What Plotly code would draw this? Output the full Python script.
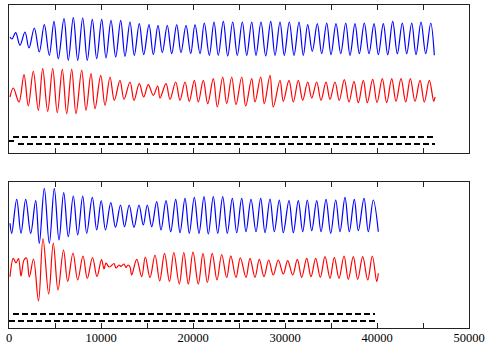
import plotly.graph_objects as go

# ---------------- data ----------------
# Upper panel, blue signal (extrema)
top_blue_t = [109, 326, 728, 1196, 1739, 2174, 2750, 3294, 3837, 4381,
              4892, 5359, 5979, 6446, 6989, 7468, 8011, 8511, 9055, 9533,
              10077, 10544, 11087, 11598, 12142, 12609, 13153, 13620, 14164, 14642,
              15218, 15685, 16196, 16664, 17207, 17686, 18229, 18696, 19240, 19751,
              20218, 20762, 21229, 21773, 22284, 22751, 23294, 23773, 24316, 24816,
              25360, 25838, 26381, 26849, 27392, 27903, 28447, 28914, 29458, 29925,
              30469, 30980, 31523, 31991, 32469, 32969, 33512, 33991, 34534, 35001,
              35545, 36056, 36599, 37067, 37610, 38078, 38621, 39132, 39676, 40143,
              40687, 41165, 41709, 42209, 42752, 43230, 43774, 44241, 44785, 45295,
              45839, 46230]
top_blue_v = [116, 114, 120.3, 107.7, 121, 105, 125, 101, 128.3, 97.7,
              131.7, 94.3, 134.3, 92.7, 135.3, 92.7, 135, 92.7, 133.7, 94.3,
              133.7, 95, 132.7, 96, 132.7, 96.7, 131, 97.7, 129.3, 98.3,
              128.3, 98.3, 127.7, 100.3, 127.7, 99.3, 128.3, 100.3, 127.7, 99.3,
              128.3, 99.3, 130, 97.7, 131, 97.7, 131.7, 97, 131, 97.7,
              131, 97.7, 131, 97.7, 131, 97, 131.7, 97.7, 131, 97.7,
              131, 97.7, 131, 97.7, 128.3, 101.7, 129.3, 99.3, 130, 98.3,
              129.3, 99.3, 130, 97.7, 129.3, 99.3, 130, 99.3, 129.3, 98.3,
              129.3, 98.3, 131.7, 99.3, 130, 99.3, 130, 98.3, 131, 99.3,
              130, 97.7]

# Upper panel, red signal (extrema)
top_red_t = [109, 467, 1087, 1631, 2098, 2641, 3185, 3663, 4207, 4750,
             5250, 5794, 6272, 6815, 7283, 7902, 8370, 8913, 9348, 9968,
             10435, 10979, 11446, 12066, 12500, 13153, 13587, 14164, 14642, 15142,
             15685, 16164, 16414, 17066, 17501, 18120, 18588, 19131, 19599, 20142,
             20577, 21120, 21599, 22207, 22642, 23229, 23664, 24207, 24675, 25295,
             25729, 26382, 26740, 27360, 27751, 28371, 28729, 29458, 29817, 30436,
             30904, 31447, 31925, 32469, 32904, 33447, 33914, 34458, 34893, 35436,
             35903, 36447, 36958, 37502, 37969, 38513, 38947, 39534, 40002, 40578,
             41057, 41600, 42067, 42611, 43122, 43622, 44133, 44676, 45144, 45687,
             46166, 46307]
top_red_v = [56, 65, 51, 78.3, 47, 81.7, 42.7, 84.3, 41.7, 84.3,
             40.3, 83.7, 39.3, 83.7, 39.3, 82.7, 42.7, 79.3, 44.3, 77.7,
             47.7, 76, 52.7, 72.7, 53.7, 71, 52.7, 69.3, 56, 68.3,
             57.7, 67, 55, 69.3, 53.7, 71, 52.7, 71, 51.7, 72.7,
             51, 72.7, 49.3, 74.3, 46, 76, 49.3, 76, 48.3, 76,
             47, 74.3, 51, 76, 49.3, 77.7, 46, 72.7, 51.7, 72.7,
             51, 72.7, 52.7, 71, 55, 71, 52.7, 71, 53.7, 71,
             52.7, 73.3, 51, 71.7, 50.3, 72.7, 50.3, 73.7, 50.3, 74.3,
             50.3, 74.3, 51.7, 74.3, 51, 74.3, 51.7, 72.7, 51, 72.7,
             51.7, 56]

# Lower panel, blue signal (extrema)
bot_blue_t = [110, 293, 837, 1304, 1815, 2359, 2902, 3294, 3837, 4381,
              4924, 5435, 5946, 6446, 6989, 7468, 8011, 8446, 9055, 9533,
              10022, 10490, 11066, 11576, 12120, 12555, 13066, 13588, 14131, 14598,
              15033, 15512, 16055, 16522, 17066, 17577, 18120, 18588, 19131, 19599,
              20142, 20653, 21197, 21664, 22207, 22686, 23229, 23729, 24273, 24751,
              25295, 25762, 26305, 26849, 27360, 27827, 28371, 28838, 29382, 29817,
              30436, 30904, 31447, 31925, 32425, 32903, 33447, 33914, 34458, 34969,
              35512, 35980, 36523, 36991, 37534, 37969, 38589, 39056, 39599, 40143]
bot_blue_v = [104.7, 94.7, 128.7, 94.7, 128.7, 94.7, 127.3, 84.7, 139.7, 84.7,
              139.7, 88, 135.3, 91.3, 132, 93, 132, 94.7, 130.7, 98,
              127.3, 98, 125.3, 100.7, 123, 101.3, 123, 100.7, 123, 103,
              123, 101.3, 126.3, 98, 127.3, 96.3, 128.7, 95.3, 129.7, 94.7,
              130.7, 94.7, 131.3, 94, 131.3, 94.7, 131.3, 94.7, 129.7, 95.3,
              129.7, 96.3, 128.7, 96.3, 129.7, 95.3, 129, 96.3, 128, 95.3,
              127.3, 95.3, 127.3, 96.3, 128, 97.3, 127.3, 96.3, 128.7, 94.7,
              128, 96.3, 130.7, 96.3, 128.7, 97.3, 129.7, 96.3, 128, 96.3]

# Lower panel, red signal (extrema and noisy stretch)
bot_red_t = [109, 467, 761, 1033, 1304, 1631, 1902, 2207, 2663, 3207,
             3696, 4315, 4815, 5326, 5924, 6381, 6957, 7468, 8044, 8511,
             9076, 9566, 10055,
             10327, 10544, 10870, 11087, 11414, 11631, 11957, 12174, 12500, 12718,
             12935, 13153,
             13337, 13881, 14424, 14816, 15327, 15870, 16381, 16903, 17446, 17914,
             18512, 19001, 19490, 20001, 20577, 21088, 21555, 22088, 22610, 23120,
             23664, 24110, 24675, 25142, 25762, 26197, 26740, 27208, 27719, 28229,
             28729, 29273, 29817, 30295, 30839, 31339, 31817, 32360, 32827, 33338,
             33838, 34349, 34893, 35360, 35871, 36415, 36882, 37425, 37903, 38447,
             38991, 39491, 39969, 40143]
bot_red_v = [51.3, 69.7, 65, 69.5, 52, 68, 70, 51, 69, 27,
             89.5, 34, 85, 38, 78, 46.5, 75, 48, 72, 49.5,
             70.5, 51.5, 68.5,
             59, 65, 61, 62, 64.5, 60, 63, 61.5, 64, 60.5,
             63, 61,
             53, 68.7, 51.3, 71, 50.5, 73, 47, 74.7, 46.3, 75.5,
             44, 75.5, 44, 75.8, 44, 74.7, 45.5, 74.7, 48, 73.5,
             50.5, 72.2, 50.5, 70.2, 50.5, 69.7, 50.7, 68.7, 51.3, 68,
             53, 68, 54, 67.3, 53, 68.7, 50.7, 69.7, 51.3, 69.7,
             50.7, 71.3, 49.7, 70.7, 49.7, 72, 48.7, 71.3, 48.7, 71.3,
             48, 72, 46.3, 54.7]

# Dashed reference levels: (level, start, end)
top_levels = [16, 9]
top_level_start = [435, 978]
top_level_end = [46090, 46307]
top_mark_level = [12]
top_mark_start = [0]
top_mark_end = [543]

bot_levels = [14, 7]
bot_level_start = [435, 0]
bot_level_end = [39784, 40111]

tick_vals = list(range(0, 50001, 5000))
tick_text = [str(v) if v % 10000 == 0 else "" for v in tick_vals]

# ---------------- figure ----------------
fig = go.Figure()

sig_w = 1.2
fig.add_trace(go.Scatter(x=top_blue_t, y=top_blue_v, mode="lines",
                         line=dict(color="#0000ff", width=sig_w, shape="spline", smoothing=1),
                         xaxis="x", yaxis="y", showlegend=False))
fig.add_trace(go.Scatter(x=top_red_t, y=top_red_v, mode="lines",
                         line=dict(color="#ff0000", width=sig_w, shape="spline", smoothing=1),
                         xaxis="x", yaxis="y", showlegend=False))
fig.add_trace(go.Scatter(x=bot_blue_t, y=bot_blue_v, mode="lines",
                         line=dict(color="#0000ff", width=sig_w, shape="spline", smoothing=1),
                         xaxis="x2", yaxis="y2", showlegend=False))
fig.add_trace(go.Scatter(x=bot_red_t, y=bot_red_v, mode="lines",
                         line=dict(color="#ff0000", width=sig_w, shape="spline", smoothing=1),
                         xaxis="x2", yaxis="y2", showlegend=False))

for lv, s, e in zip(top_levels, top_level_start, top_level_end):
    fig.add_trace(go.Scatter(x=[s, e], y=[lv, lv], mode="lines",
                             line=dict(color="black", width=2, dash="6px,3px"),
                             xaxis="x", yaxis="y", showlegend=False))
for lv, s, e in zip(top_mark_level, top_mark_start, top_mark_end):
    fig.add_trace(go.Scatter(x=[s, e], y=[lv, lv], mode="lines",
                             line=dict(color="black", width=2),
                             xaxis="x", yaxis="y", showlegend=False))
for lv, s, e in zip(bot_levels, bot_level_start, bot_level_end):
    fig.add_trace(go.Scatter(x=[s, e], y=[lv, lv], mode="lines",
                             line=dict(color="black", width=2, dash="6px,3px"),
                             xaxis="x2", yaxis="y2", showlegend=False))

axis_common = dict(showline=True, linecolor="#222", linewidth=1, mirror="ticks",
                   showgrid=False, zeroline=False, automargin=False)

fig.update_layout(
    template="none",
    width=485, height=345,
    margin=dict(l=9, r=16, t=5, b=17),
    paper_bgcolor="white", plot_bgcolor="white",
    font=dict(family="Liberation Serif", size=12.5, color="black"),
    xaxis=dict(domain=[0, 1], anchor="y", range=[0, 50000],
               tickmode="array", tickvals=tick_vals, ticktext=tick_text,
               ticks="inside", ticklen=5, tickcolor="#222",
               showticklabels=False, **axis_common),
    yaxis=dict(domain=[0.5418, 1], anchor="x", range=[0, 148],
               ticks="", showticklabels=False, **axis_common),
    xaxis2=dict(domain=[0, 1], anchor="y2", range=[0, 50000],
                tickmode="array", tickvals=tick_vals, ticktext=tick_text,
                ticks="inside", ticklen=5, tickcolor="#222",
                ticklabeloverflow="allow", ticklabelstandoff=-2,
                showticklabels=True, **axis_common),
    yaxis2=dict(domain=[0, 0.452], anchor="x2", range=[0, 146],
                ticks="", showticklabels=False, **axis_common),
)

fig.write_html("out.html",
               config={"displayModeBar": False},
               post_script="document.body.style.margin='0px';document.body.style.overflow='hidden';")
